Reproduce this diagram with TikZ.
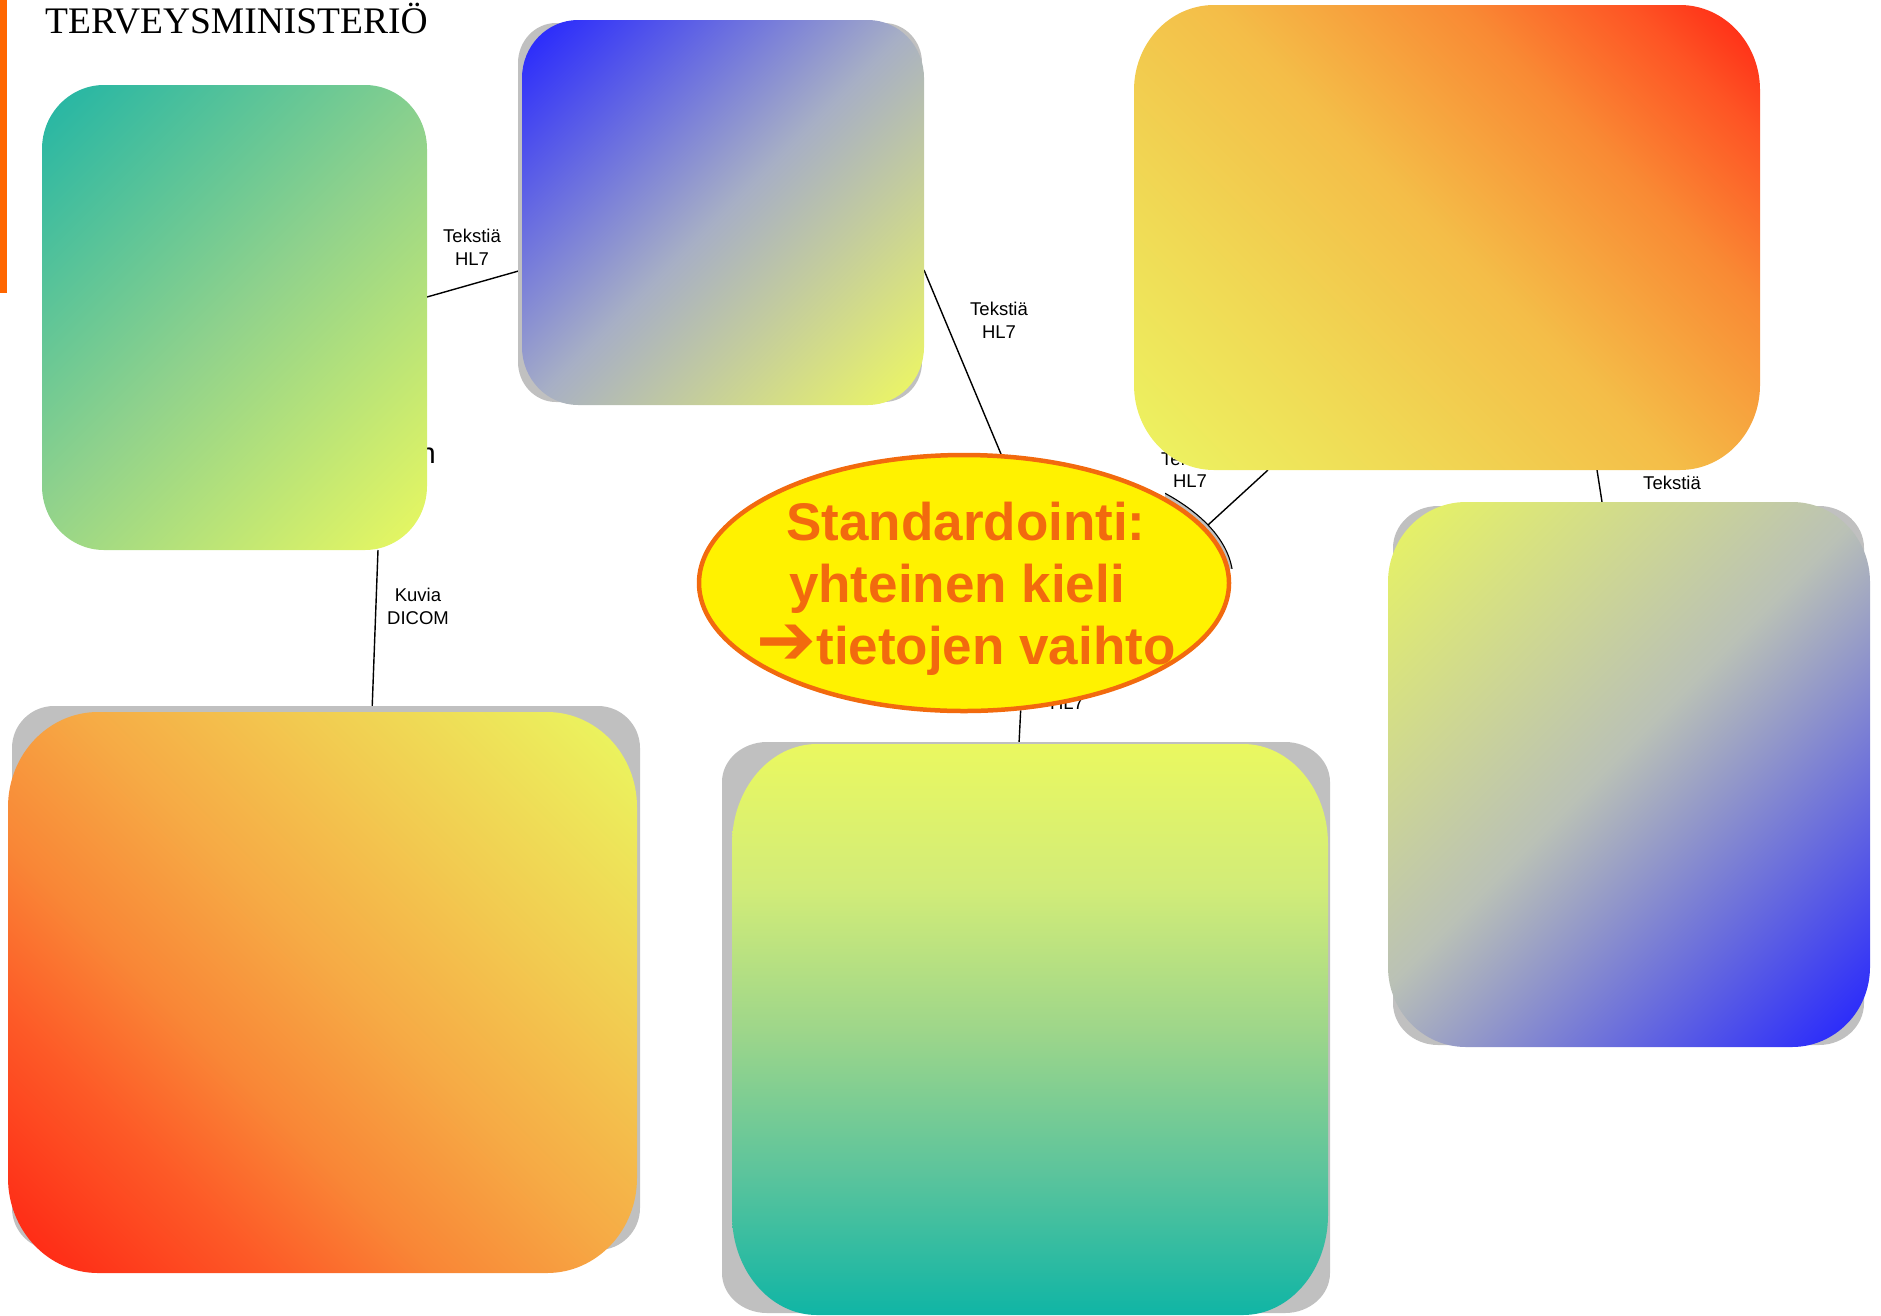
\documentclass[tikz,border=0pt]{standalone}
\usepackage{fontspec}
\setmainfont{Liberation Serif}
\setsansfont{Liberation Sans}
\newfontfamily\arrowfont[Scale=1.35]{DejaVu Sans}
\usetikzlibrary{shapes.geometric}
\pgfdeclarelayer{bg}
\pgfsetlayers{bg,main}

\definecolor{orng}{HTML}{F26A0E}
\definecolor{barorange}{HTML}{FF6600}
\definecolor{shadowgray}{HTML}{C0C0C0}
\definecolor{cA1}{HTML}{22B5A5}\definecolor{cAm}{HTML}{90D28C}\definecolor{cA2}{HTML}{E9F860}
\definecolor{cB1}{HTML}{2424FF}\definecolor{cBm}{HTML}{A7AFC5}\definecolor{cB2}{HTML}{EEF862}
\definecolor{cC1}{HTML}{ECF462}\definecolor{cC2}{HTML}{F0DA55}\definecolor{cC3}{HTML}{F4BD48}
\definecolor{cC4}{HTML}{F98A34}\definecolor{cC5}{HTML}{FE5424}\definecolor{cC6}{HTML}{FF2313}
\definecolor{cD1}{HTML}{E8F462}\definecolor{cDm}{HTML}{BAC1B6}\definecolor{cD2}{HTML}{2222FF}
\definecolor{cE1}{HTML}{FF2313}\definecolor{cE2}{HTML}{FD5A27}\definecolor{cE3}{HTML}{F98636}
\definecolor{cE4}{HTML}{F6AA45}\definecolor{cE5}{HTML}{F2CA50}\definecolor{cE6}{HTML}{EAF860}
\definecolor{cF1}{HTML}{EAF860}\definecolor{cF2}{HTML}{D2EC78}\definecolor{cF3}{HTML}{9ED68A}
\definecolor{cF4}{HTML}{5CC49C}\definecolor{cF5}{HTML}{10B5A5}

\pgfdeclarehorizontalshading{shA}{100bp}{color(0bp)=(cA1); color(15bp)=(cA1); color(50bp)=(cAm); color(85bp)=(cA2); color(100bp)=(cA2)}
\pgfdeclarehorizontalshading{shB}{100bp}{color(0bp)=(cB1); color(15bp)=(cB1); color(50bp)=(cBm); color(85bp)=(cB2); color(100bp)=(cB2)}
\pgfdeclarehorizontalshading{shC}{100bp}{color(0bp)=(cC1); color(15bp)=(cC1); color(32bp)=(cC2); color(50bp)=(cC3); color(66bp)=(cC4); color(77bp)=(cC5); color(85bp)=(cC6); color(100bp)=(cC6)}
\pgfdeclarehorizontalshading{shD}{100bp}{color(0bp)=(cD1); color(15bp)=(cD1); color(48bp)=(cDm); color(85bp)=(cD2); color(100bp)=(cD2)}
\pgfdeclarehorizontalshading{shE}{100bp}{color(0bp)=(cE1); color(15bp)=(cE1); color(30bp)=(cE2); color(40bp)=(cE3); color(52bp)=(cE4); color(65bp)=(cE5); color(85bp)=(cE6); color(100bp)=(cE6)}
\pgfdeclareverticalshading{shF}{100bp}{color(0bp)=(cF5); color(25bp)=(cF5); color(37.5bp)=(cF4); color(50bp)=(cF3); color(62.5bp)=(cF2); color(75bp)=(cF1); color(100bp)=(cF1)}

% rounded box with elliptical corners: x1 y1 x2 y2 rx ry (y grows downward)
\newcommand{\rrbox}[6]{(#1+#5,#2) -- (#3-#5,#2) .. controls (#3-0.448*#5,#2) and (#3,#2+0.448*#6) .. (#3,#2+#6) -- (#3,#4-#6) .. controls (#3,#4-0.448*#6) and (#3-0.448*#5,#4) .. (#3-#5,#4) -- (#1+#5,#4) .. controls (#1+0.448*#5,#4) and (#1,#4-0.448*#6) .. (#1,#4-#6) -- (#1,#2+#6) .. controls (#1,#2+0.448*#6) and (#1+0.448*#5,#2) .. (#1+#5,#2) -- cycle}

\tikzset{
  boxnode/.style={rectangle, draw=none, inner sep=0pt, outer sep=0pt},
  conn/.style={draw=black, line width=1.4pt},
  lbl/.style={font=\sffamily\fontsize{18.5}{22.5}\selectfont, align=center, inner sep=0pt},
  shadowbox/.style={fill=shadowgray},
}

\begin{document}
\begin{tikzpicture}[x=1pt, y=-1pt]
\useasboundingbox (0,0) rectangle (1881,1315);

% left orange bar and title
\fill[barorange] (0,0) rectangle (7,293);
\node[anchor=base west, inner sep=0pt, font=\fontsize{37.5}{44}\selectfont] (title) at (45,33) {TERVEYSMINISTERIÖ};

% anchor nodes of the boxes
\node[boxnode, minimum width=385pt, minimum height=465pt] (A) at (234.5,317.5) {};
\node[boxnode, minimum width=402pt, minimum height=385pt] (B) at (723,212.5) {};
\node[boxnode, minimum width=626pt, minimum height=465pt] (C) at (1447,237.5) {};
\node[boxnode, minimum width=482pt, minimum height=545pt] (D) at (1629,774.5) {};
\node[boxnode, minimum width=629pt, minimum height=561pt] (E) at (322.5,992.5) {};
\node[boxnode, minimum width=596pt, minimum height=571pt] (F) at (1030,1029.5) {};

% gray shadows
\fill[shadowbox] \rrbox{518}{23}{922}{402}{38}{40};
\fill[shadowbox] \rrbox{1393}{506}{1864}{1045}{45}{42};
\fill[shadowbox] \rrbox{12}{706}{640}{1250}{42}{42};
\fill[shadowbox] \rrbox{722}{742}{1330}{1313}{45}{40};

% gradient boxes
\shade[shading=shA, shading angle=-45] \rrbox{42}{85}{427}{550}{62}{64};
\shade[shading=shB, shading angle=-45] \rrbox{522}{20}{924}{405}{56}{58};
\shade[shading=shC, shading angle=45] \rrbox{1134}{5}{1760}{470}{80}{85};
\shade[shading=shD, shading angle=-45] \rrbox{1388}{502}{1870}{1047}{78}{80};
\shade[shading=shE, shading angle=45] \rrbox{8}{712}{637}{1273}{90}{95};
\shade[shading=shF] \rrbox{732}{744}{1328}{1315}{85}{100};

% central ellipse with its shadow
\begin{scope}
  \clip (1165,470) rectangle (1260,568);
  \draw[fill=shadowgray, line width=1.1pt] (966.5,580) ellipse [x radius=266.5, y radius=130];
\end{scope}
\node[ellipse, minimum width=530pt, minimum height=256pt, inner sep=0pt, draw=orng, line width=4.5pt, fill=yellow] (S) at (964,583) {};
\node[font=\sffamily\bfseries\fontsize{53}{62}\selectfont, text=orng, align=center, inner sep=0pt] (St) at (966,589)
  {Standardointi:\\\hbox{yhteinen kieli\kern18pt}\\{\arrowfont ➔}tietojen vaihto};

% connectors and labels (beneath the boxes)
\begin{pgfonlayer}{bg}
  \draw[conn] ([yshift=20.5pt]A.east) -- ([yshift=-57.5pt]B.west);
  \draw[conn] ([yshift=-57.5pt]B.east) -- (S.74);
  \draw[conn] ([xshift=-179pt]C.south) -- (S.13);
  \draw[conn] ([xshift=150pt]C.south) -- ([xshift=-27pt]D.north);
  \draw[conn] ([xshift=143.5pt]A.south) -- ([xshift=49.5pt]E.north);
  \draw[conn] (S.-66) -- ([xshift=-11pt]F.north);
  \node[lbl] (lb1) at (472,247.5) {Tekstiä\\HL7};
  \node[lbl] (lb2) at (999,320.5) {Tekstiä\\HL7};
  \node[lbl] (lb3) at (1190,470) {Tekstiä\\HL7};
  \node[lbl] (lb4) at (1672,483) {Tekstiä};
  \node[lbl] (lb5) at (418,606.5) {Kuvia\\DICOM};
  \node[lbl] (lb6) at (1067,691.5) {Tekstiä\\HL7};
  \node[anchor=base east, inner sep=0pt, font=\sffamily\fontsize{29}{34}\selectfont] (hid) at (436,463) {n};
\end{pgfonlayer}
\end{tikzpicture}
\end{document}
